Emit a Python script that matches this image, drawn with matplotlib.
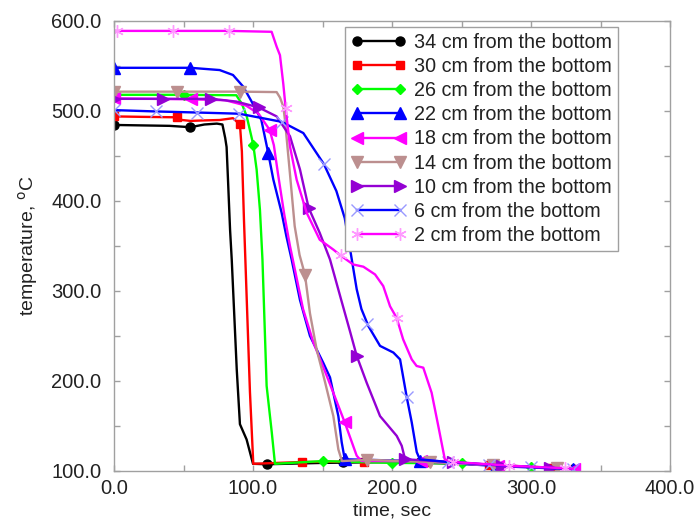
import matplotlib
matplotlib.use("Agg")
import matplotlib.pyplot as plt
from matplotlib.lines import Line2D
from matplotlib.ticker import MultipleLocator, FormatStrFormatter

plt.rcParams['font.family'] = ['Liberation Sans', 'DejaVu Sans']

# ---- thermocouple readings: time (s) and temperature (degC) ----
labels = ["34 cm from the bottom", "30 cm from the bottom", "26 cm from the bottom",
          "22 cm from the bottom", "18 cm from the bottom", "14 cm from the bottom",
          "10 cm from the bottom", "6 cm from the bottom", "2 cm from the bottom"]

t34 = [0, 20, 40, 55, 65, 74, 78, 80, 81, 82, 83.5, 84.7, 88.3, 90.6, 95.4, 100, 110, 150, 200, 250, 300, 330]
T34 = [484.5, 484, 483.5, 482, 485, 486, 485, 470, 460, 424, 368, 335, 213, 152, 135, 108, 107.5, 109, 110, 108, 104.5, 102.5]
mt34 = [0, 55, 110, 165, 220, 275, 330]
mT34 = [484.5, 482, 107.5, 109.5, 109.5, 106, 102.5]

t30 = [0, 20, 45, 49, 55, 64, 76, 85.6, 90.6, 92, 93.5, 94.5, 97.8, 100.2, 135, 180, 225, 270, 315, 330]
T30 = [494, 493.5, 493, 490, 489, 489.5, 490, 492, 485, 455, 379, 335, 188, 108, 110, 110.5, 110, 107, 103.5, 102.5]
mt30 = [0, 45, 90.6, 135, 180, 225, 270, 315]
mT30 = [494, 493, 485, 110, 110.5, 110, 107, 103.5]

t26 = [0, 50, 88, 92, 95.5, 100.2, 102.6, 103.8, 105, 106.8, 109.8, 113.5, 115.8, 150, 200, 250, 300, 330]
T26 = [518, 518, 517.5, 508, 494, 462.5, 435, 412.6, 390, 335, 194.6, 143, 108, 111, 109, 108.5, 104.5, 103]
mt26 = [0, 50, 100.2, 150, 200, 250, 300]
mT26 = [518, 518, 462.5, 111, 109, 108.5, 104.5]

t22 = [0, 55, 76, 85.6, 93, 99, 106, 111, 114.6, 120.6, 124, 127.8, 133.8, 141, 150.6, 155.4, 161.4, 163.8, 166, 220, 275, 330]
T22 = [548, 548, 545.5, 540, 527, 510.5, 490, 453, 424, 387, 361, 335, 290, 250, 220, 204, 161, 132, 113, 111, 105.5, 102]
mt22 = [0, 55, 111, 166, 220, 275, 330]
mT22 = [548, 548, 453, 113, 111, 105.5, 102]

t18 = [0, 55.3, 80, 95, 104, 112, 115, 118, 122.5, 126.6, 136, 143.4, 153, 166, 174.6, 178, 221, 276, 331]
T18 = [514, 513, 512, 506, 497, 479, 462, 430, 385, 350, 280, 243, 206, 154, 117, 111, 111, 106, 102]
mt18 = [0, 55.3, 112, 166, 221, 276, 331]
mT18 = [514, 513, 479, 154, 111, 106, 102]

t14 = [0, 45.5, 91, 117, 119.4, 121.8, 123, 126.6, 130, 133.5, 137.4, 141, 145.8, 151.8, 157.8, 161.4, 164, 182, 227.5, 273, 318.5, 330]
T14 = [521.5, 521.5, 521.5, 521, 515, 505, 490, 430, 372, 340, 318, 275, 235, 199, 161, 124, 111, 112.5, 110, 106.5, 103.5, 103]
mt14 = [0, 45.5, 91, 137.4, 182, 227.5, 273, 318.5]
mT14 = [521.5, 521.5, 521.5, 318, 112.5, 110, 106.5, 103.5]

t10 = [0, 35, 70, 88, 104, 117, 126.6, 133.8, 140, 148, 155.4, 163.3, 170, 174.6, 181.8, 191.4, 203.4, 207, 209.4, 244, 279, 314, 330]
T10 = [513.5, 513.5, 513.5, 510.5, 504, 494, 472, 435, 392.5, 364.6, 335, 291, 254, 228, 198, 161, 139, 128, 113, 110, 106, 103.5, 102.5]
mt10 = [0, 35, 70, 104, 140, 174.6, 209.4, 244, 279, 314]
mT10 = [513.5, 513.5, 513.5, 504, 392.5, 228, 113, 110, 106, 103.5]

t6 = [0, 30, 60, 90, 120.6, 136.2, 151, 160, 166, 170, 174.6, 178, 183, 191.4, 201, 205.8, 210.6, 214.2, 217.8, 220, 240, 270, 300, 330]
T6 = [501, 499.5, 498.3, 497, 488, 475.5, 441, 411, 381, 345, 302, 280, 261, 239, 231.6, 224, 182, 154, 121, 113, 110, 107, 104.5, 102]
mt6 = [0, 30, 60, 90, 120.6, 151, 181.8, 210.6, 240, 270, 300, 330]
mT6 = [501, 499.5, 498.3, 497, 488, 441, 263, 182, 110, 107, 104.5, 102]

t2 = [2, 42.5, 83, 113.4, 117, 119.4, 121.8, 123.5, 126.6, 131.4, 138.6, 148, 157.8, 163, 172, 179.4, 187.8, 193.7, 198.6, 203.4, 208, 214.2, 217.7, 222.5, 228.5, 233.3, 238, 244, 284, 324.5, 330]
T2 = [589, 589, 589, 588, 571.5, 562, 530, 503, 460.6, 423.7, 387, 357, 346, 339.5, 329.5, 327, 318.4, 305.5, 283, 270, 246.3, 224, 216.7, 214.8, 187, 150, 113, 110, 106, 103, 102.5]
mt2 = [2, 42.5, 83, 123.5, 163, 203.4, 244, 284, 324.5]
mT2 = [589, 589, 589, 503, 339.5, 270, 110, 106, 103]

lines = [(t34, T34), (t30, T30), (t26, T26), (t22, T22), (t18, T18),
         (t14, T14), (t10, T10), (t6, T6), (t2, T2)]
marks = [(mt34, mT34), (mt30, mT30), (mt26, mT26), (mt22, mT22), (mt18, mT18),
         (mt14, mT14), (mt10, mT10), (mt6, mT6), (mt2, mT2)]

# line colour, marker, marker colour, marker size
styles = [
    ("#000000", "o", "#000000", 6.5),
    ("#FF0000", "s", "#FF0000", 6.0),
    ("#00FF00", "D", "#00FF00", 5.0),
    ("#0000FF", "^", "#0000FF", 8.5),
    ("#FF00FF", "<", "#FF00FF", 8.5),
    ("#BC8F8F", "v", "#BC8F8F", 8.5),
    ("#9400D3", ">", "#9400D3", 8.5),
    ("#0000FF", "x", "#9999FF", 8.0),
    ("#FF00FF", (6, 2, 0), "#FF99FF", 9.0),
]

fig = plt.figure(figsize=(6.96, 5.24), dpi=100)
ax = fig.add_axes([114 / 696, 1 - 471 / 524, (670 - 114) / 696, (471 - 21) / 524])

handles = []
for (tl, Tl), (tm, Tm), (lc, mk, mc, ms), lab in zip(lines, marks, styles, labels):
    ax.plot(tl, Tl, color=lc, lw=1.7, solid_joinstyle='round')
    ax.plot(tm, Tm, ls='none', marker=mk, color=mc, markersize=ms, markeredgewidth=1.0)
    handles.append(Line2D([], [], color=lc, lw=1.7, marker=mk, markerfacecolor=mc,
                          markeredgecolor=mc, markersize=ms, label=lab))

ax.set_xlim(0, 400)
ax.set_ylim(100, 600)
ax.xaxis.set_major_locator(MultipleLocator(100))
ax.xaxis.set_minor_locator(MultipleLocator(50))
ax.yaxis.set_major_locator(MultipleLocator(100))
ax.yaxis.set_minor_locator(MultipleLocator(50))
ax.xaxis.set_major_formatter(FormatStrFormatter('%.1f'))
ax.yaxis.set_major_formatter(FormatStrFormatter('%.1f'))

for s in ax.spines.values():
    s.set_color('#A0A0A0')
    s.set_linewidth(1.0)
ax.tick_params(which='both', direction='in', top=True, right=True,
               color='#A0A0A0', width=1.0, length=4)
ax.tick_params(axis='x', which='major', labelsize=14.5, pad=6, labelcolor='#222222')
ax.tick_params(axis='y', which='major', labelsize=14.5, pad=9, labelcolor='#222222')

ax.set_xlabel("time, sec", fontsize=14, color='#222222', labelpad=3)
ax.set_ylabel("temperature, $^{\\rm o}$C", fontsize=14, color='#222222', labelpad=8)

leg = ax.legend(handles=handles, loc='upper left', numpoints=2,
                bbox_to_anchor=(345 / 696, 1 - 27 / 524), bbox_transform=fig.transFigure,
                borderaxespad=0, fontsize=14.2, handlelength=2.8, handletextpad=0.4,
                labelspacing=0.26, borderpad=0.3, fancybox=False, framealpha=1,
                edgecolor='#A0A0A0')
leg.get_frame().set_linewidth(1.0)
for txt in leg.get_texts():
    txt.set_color('#222222')

fig.savefig("out.png", dpi=100)
